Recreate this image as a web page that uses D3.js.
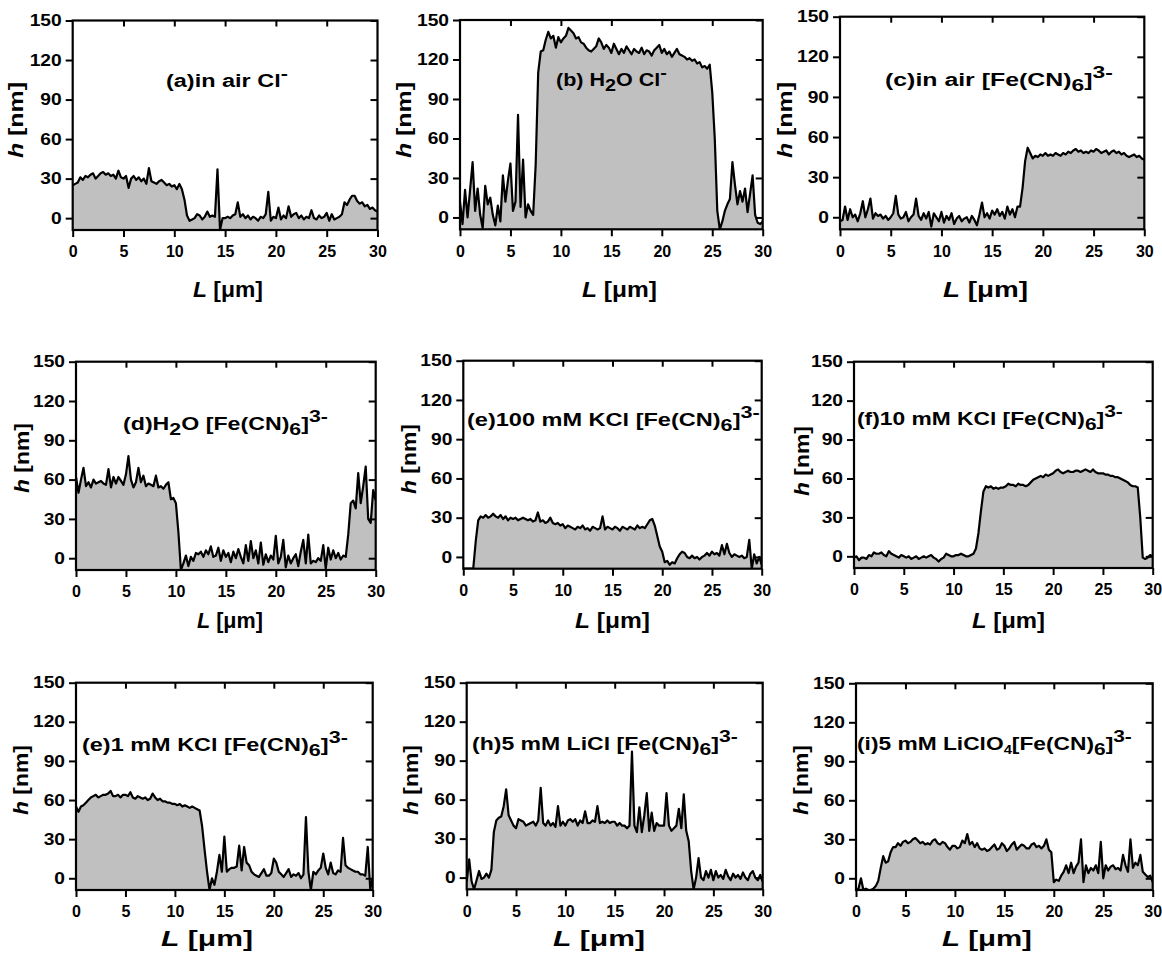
<!DOCTYPE html>
<html>
<head>
<meta charset="utf-8">
<script src="https://cdn.jsdelivr.net/npm/d3@7"></script>
<style>
  body { margin: 0; background: #fff; }
  svg text { font-family: "Liberation Sans", Arial, sans-serif; font-weight: bold; fill: #000; }
</style>
</head>
<body>
<svg id="fig" width="1162" height="956"></svg>
<script>
// Height profiles h [nm] sampled every 0.25 µm along the scan line L = 0 … 30 µm
const scanL = d3.range(0, 30.0001, 0.25);

const xTicks = [0, 5, 10, 15, 20, 25, 30];
const yTicks = [0, 30, 60, 90, 120, 150];
const xTop = [5, 10, 15, 20, 25];
const hDomain = [-9, 150];
const lDomain = [0, 30];

// (a) in air, Cl-
const heightA = [
  25, 26, 27, 31, 29, 32, 31, 33, 34, 30,
  32, 34, 35, 33, 34, 32, 33, 30, 36, 31,
  30, 32, 23, 30, 32, 29, 31, 28, 30, 26,
  38, 28, 27, 26, 28, 29, 27, 25, 26, 24,
  25, 22, 26, 22, 14, 2, -2, -1, 0, 3,
  2, -1, 1, 5, 1, 2, 1, 37, -9, 0,
  0, 1, 0, 2, 3, 12, 1, 3, 0, 2,
  -1, 1, 0, -2, 1, 0, 3, 20, -2, 1,
  0, 8, -1, 2, 0, 9, 1, 3, 4, 0,
  2, -1, 1, 0, 6, 0, -1, 2, 0, 1,
  4, -2, 3, -1, 0, 1, 3, 12, 10, 14,
  17, 17, 13, 11, 12, 9, 10, 7, 8, 6,
  5
];

// (b) H2O, Cl-
const heightB = [
  12, -5, 21, 0, 21, 42, 5, 22, 2, -8,
  24, 10, 15, 2, -6, 9, -3, 32, 12, 28,
  41, 5, 12, 78, 8, 44, 0, 10, 5, 2,
  40, 110, 126, 127, 135, 141, 136, 138, 129, 137,
  133, 136, 138, 144, 142, 140, 136, 137, 133, 132,
  129, 127, 126, 128, 130, 136, 133, 128, 131, 129,
  125, 132, 128, 124, 128, 125, 130, 127, 124, 128,
  126, 125, 129, 124, 127, 126, 123, 127, 129, 131,
  125, 128, 124, 126, 122, 125, 128, 124, 123, 122,
  120, 121, 119, 120, 117, 118, 114, 115, 113, 116,
  95, 60, 5, -9, -3, 5, 10, 14, 42, 25,
  10, 20, 12, 22, 4, 18, 32, 2, -4, -5,
  -3
];

// (c) in air, [Fe(CN)6]3-
const heightC = [
  -3, -2, 8, -2, 6, 0, 2, -3, 3, 12,
  0, 6, 14, -1, 3, 1, 2, -1, 1, -2,
  0, 3, 16, 2, -1, 0, 4, -3, 0, 2,
  14, 1, -2, 3, -1, 4, -7, 3, 0, -3,
  4, -4, 1, -2, 3, -5, -1, 1, -3, -1,
  0, -4, 1, -2, -6, 2, 11, 0, 3, -1,
  5, 2, 6, 1, 4, -1, 8, 2, 6, 0,
  8, 8, 22, 42, 52, 48, 44, 46, 45, 47,
  46, 48, 46, 47, 46, 48, 47, 46, 48, 47,
  49, 48, 50, 51, 49, 50, 48, 49, 48, 50,
  49, 51, 50, 48, 49, 50, 47, 49, 50, 48,
  49, 47, 48, 46, 45, 46, 47, 45, 46, 44,
  43
];

// (d) H2O, [Fe(CN)6]3-
const heightD = [
  62, 50, 60, 69, 55, 58, 54, 60, 57, 58,
  59, 57, 56, 68, 54, 62, 57, 62, 59, 56,
  64, 78, 60, 54, 58, 69, 58, 63, 55, 57,
  56, 55, 63, 54, 55, 53, 56, 58, 45, 46,
  42, 20, -9, -4, 2, -6, 1, -2, 4, 3,
  5, 1, 6, 3, 9, 1, 2, 8, -2, 6,
  1, 4, -3, 5, 0, 7, 1, -4, 10, -2,
  13, 0, 6, -4, 12, -5, 3, -3, 2, -1,
  17, -4, 1, 14, -7, 2, -4, 0, 3, -6,
  5, 14, -4, 18, -4, -2, -3, 0, -2, 10,
  -8, 8, -1, 6, 0, 4, -1, 2, 1, 18,
  42, 44, 38, 65, 42, 55, 70, 30, 27, 52,
  44
];

// (e) 100 mM KCl, [Fe(CN)6]3-
const heightE = [
  -9, -9, -9, -9, -9, 12, 28, 31, 30, 32,
  30, 31, 33, 31, 30, 32, 29, 31, 28, 30,
  29, 30, 28, 29, 30, 29, 28, 29, 27, 28,
  34, 27, 28, 26, 27, 30, 26, 25, 26, 24,
  25, 22, 24, 23, 22, 21, 23, 22, 24, 21,
  22, 20, 23, 22, 21, 22, 31, 21, 23, 22,
  21, 23, 22, 20, 23, 22, 21, 23, 22, 21,
  24, 22, 23, 22, 25, 28, 29, 24, 16, 8,
  4, -4, -3, -6, -4, -5, -1, 2, 4, 3,
  0, -1, 1, -1, 0, -2, 0, 1, 3, 1,
  4, 2, 3, 1, 9, 2, 10, 3, 0, 2,
  1, 0, 1, -1, 0, 13, -9, 2, -5, 0,
  -6
];

// (f) 10 mM KCl, [Fe(CN)6]3-
const heightF = [
  -1, 0, -3, -1, -1, -2, 1, 0, 3, 2,
  2, 3, 1, 0, 4, 2, 1, 0, -1, 1,
  0, -1, 0, -2, -1, 0, -2, -1, 0, -1,
  0, 1, -1, -2, -4, -2, -1, 2, 1, 0,
  0, 1, 1, 2, 1, 0, 0, 1, 2, 6,
  18, 35, 50, 54, 53, 54, 52, 53, 52, 53,
  53, 54, 56, 55, 55, 54, 56, 55, 55, 54,
  55, 57, 59, 60, 61, 62, 61, 63, 62, 63,
  64, 66, 67, 65, 64, 65, 66, 65, 65, 66,
  66, 65, 66, 67, 66, 65, 67, 65, 64, 64,
  64, 63, 63, 62, 62, 61, 61, 60, 59, 58,
  57, 55, 54, 54, 53, 30, -1, -2, -1, 1,
  0
];

// (g) 1 mM KCl, [Fe(CN)6]3-
const heightG = [
  55, 51, 55, 56, 58, 60, 62, 63, 64, 62,
  63, 64, 64, 65, 67, 63, 63, 64, 62, 64,
  64, 63, 66, 62, 61, 63, 62, 61, 62, 60,
  61, 65, 62, 60, 61, 59, 59, 58, 58, 57,
  57, 56, 57, 55, 56, 55, 54, 55, 54, 53,
  52, 40, 22, 5, -9, 0, -5, 5, 18, 5,
  32, 5, 7, 8, 8, 9, 25, 6, 24, 12,
  10, 5, 3, 2, 1, 4, 7, 2, 2, 4,
  15, 12, 5, 3, 1, 4, 7, 1, 3, 2,
  4, 0, 3, 47, 5, -9, 5, 3, 6, 8,
  19, 8, 3, 12, 4, 3, 6, 5, 31, 10,
  8, 7, 6, 5, 5, 3, 3, 2, 24, -8,
  0
];

// (h) 5 mM LiCl, [Fe(CN)6]3-
const heightH = [
  -3, 14, -3, -9, -2, 5, -1, 0, 3, 0,
  6, 35, 44, 46, 47, 55, 68, 48, 44, 40,
  38, 45, 44, 43, 40, 41, 42, 43, 40, 44,
  69, 42, 40, 44, 40, 42, 39, 55, 40, 43,
  40, 44, 45, 43, 45, 40, 44, 42, 51, 42,
  42, 44, 43, 55, 42, 43, 42, 44, 42, 43,
  43, 40, 42, 40, 40, 38, 40, 97, 40, 35,
  54, 35, 48, 65, 36, 50, 36, 42, 40, 40,
  40, 65, 40, 36, 38, 40, 53, 38, 64, 36,
  28, 5, -9, 0, 15, 0, -2, 5, 0, 6,
  -2, 5, 0, 2, -1, 6, 1, -2, 3, 0,
  2, -1, 4, 0, -2, 3, 5, 0, -2, 2,
  -3
];

// (i) 5 mM LiClO4, [Fe(CN)6]3-
const heightI = [
  -9, -8, 0, -9, -8, -9, -9, -8, -6, -2,
  8, 17, 12, 13, 20, 24, 24, 27, 25, 28,
  29, 27, 28, 30, 31, 29, 27, 28, 26, 27,
  26, 29, 30, 27, 26, 28, 27, 24, 22, 25,
  25, 23, 24, 29, 27, 34, 26, 28, 24, 27,
  23, 22, 23, 21, 22, 24, 26, 22, 23, 27,
  25, 21, 23, 26, 28, 22, 24, 26, 25, 23,
  23, 26, 27, 24, 25, 23, 25, 30, 22, 20,
  -3, -1, -2, 2, 5, 10, 4, 12, 4, 9,
  12, 30, -3, 10, 4, 8, 6, 10, 4, 28,
  0, 10, 6, 9, 10, 7, 8, 6, 18, 10,
  5, 30, 8, 12, 10, 18, 5, 3, 1, 2,
  -3
];

// Panel titles: text runs, with "sub"/"sup" marking sub- and superscripts
const titleA = [["(a)in air Cl"], ["-", "sup"]];
const titleB = [["(b) H"], ["2", "sub"], ["O Cl"], ["-", "sup"]];
const titleC = [["(c)in air [Fe(CN)"], ["6", "sub"], ["]"], ["3-", "sup"]];
const titleD = [["(d)H"], ["2", "sub"], ["O [Fe(CN)"], ["6", "sub"], ["]"], ["3-", "sup"]];
const titleE = [["(e)100 mM KCl [Fe(CN)"], ["6", "sub"], ["]"], ["3-", "sup"]];
const titleF = [["(f)10 mM KCl [Fe(CN)"], ["6", "sub"], ["]"], ["3-", "sup"]];
const titleG = [["(e)1 mM KCl [Fe(CN)"], ["6", "sub"], ["]"], ["3-", "sup"]];
const titleH = [["(h)5 mM LiCl [Fe(CN)"], ["6", "sub"], ["]"], ["3-", "sup"]];
const titleI = [["(i)5 mM LiClO"], ["4", "subs"], ["[Fe(CN)"], ["6", "sub"], ["]"], ["3-", "sup"]];

const series = [heightA, heightB, heightC, heightD, heightE, heightF, heightG, heightH, heightI];
const titles = [titleA, titleB, titleC, titleD, titleE, titleF, titleG, titleH, titleI];

// Frame of each panel and where its labels sit
const layout = [
  { L: 72.7, R: 377.5, top: 20.5, bottom: 230,   title: [166, 288, 87],   ylab: [23, 120, 76],  xlab: [193, 263, 297, 22] },
  { L: 460,  R: 762.7, top: 20,   bottom: 229.3, title: [556, 667, 86],   ylab: [411, 120, 76], xlab: [582, 657, 297, 22] },
  { L: 840,  R: 1144.3, top: 16.7, bottom: 229.3, title: [885, 1113, 86], ylab: [792, 120, 76], xlab: [943, 1028, 297, 22] },
  { L: 76,   R: 375.7, top: 361.7, bottom: 570,  title: [123, 328, 430],  ylab: [29, 458, 70],  xlab: [197, 263, 628, 22] },
  { L: 463.3, R: 761.7, top: 360.7, bottom: 568.7, title: [467, 760, 426], ylab: [416, 459, 70], xlab: [575, 650, 628, 22] },
  { L: 854,  R: 1152.7, top: 361.7, bottom: 568, title: [857, 1123, 425], ylab: [809, 461, 70], xlab: [972, 1045, 628, 22] },
  { L: 76,   R: 372.7, top: 682.7, bottom: 890,  title: [82, 348, 751],   ylab: [28, 780, 70],  xlab: [161, 253, 946, 22] },
  { L: 466.7, R: 762.7, top: 682.7, bottom: 889.3, title: [472, 738, 750], ylab: [418, 780, 70], xlab: [553, 645, 946, 22] },
  { L: 856,  R: 1152.7, top: 683.3, bottom: 890, title: [857, 1132, 750], ylab: [808, 780, 70], xlab: [942, 1032, 946, 22] }
];

const svg = d3.select("#fig");
const defs = svg.append("defs");

// Fit a text element horizontally between x0 and x1, baseline at y
function fitText(t, x0, x1, y) {
  const bb = t.node().getBBox();
  const sx = (x1 - x0) / bb.width;
  t.attr("transform", `translate(${x0 - bb.x * sx},${y}) scale(${sx},1)`);
}

function drawTitle(segs, box) {
  const t = svg.append("text").attr("font-size", 18.5);
  let shift = 0;
  segs.forEach(([s, kind]) => {
    const target = kind === "sub" ? 5 : kind === "subs" ? 4 : kind === "sup" ? -8 : 0;
    const ts = t.append("tspan").text(s).attr("dy", target - shift);
    if (kind === "sub") ts.attr("font-size", 17);
    if (kind === "subs") ts.attr("font-size", 12);
    if (kind === "sup") ts.attr("font-size", 17);
    shift = target;
  });
  fitText(t, box[0], box[1], box[2]);
}

function drawYLabel(spec) {
  const [bx, cy, len] = spec;
  const t = svg.append("text").attr("font-size", 20);
  t.append("tspan").attr("font-style", "italic").text("h");
  t.append("tspan").text(" [nm]");
  const bb = t.node().getBBox();
  const s = len / bb.width;
  t.attr("transform", `translate(${bx},${cy}) rotate(-90) scale(${s},1) translate(${-bb.x - bb.width / 2},0)`);
}

function drawXLabel(spec) {
  const [x0, x1, y, fs] = spec;
  const t = svg.append("text").attr("font-size", fs);
  t.append("tspan").attr("font-style", "italic").text("L");
  t.append("tspan").text(" [\u03bcm]");
  fitText(t, x0, x1, y);
}

series.forEach((h, i) => {
  const p = layout[i];
  const x = d3.scaleLinear().domain(lDomain).range([p.L, p.R]);
  const y = d3.scaleLinear().domain(hDomain).range([p.bottom, p.top]);
  const pts = scanL.map((l, k) => [l, h[k]]);

  const clipId = "clip" + i;
  defs.append("clipPath").attr("id", clipId)
    .append("rect").attr("x", p.L).attr("y", p.top)
    .attr("width", p.R - p.L).attr("height", p.bottom - p.top);

  const g = svg.append("g");
  const plot = g.append("g").attr("clip-path", `url(#${clipId})`);

  plot.append("path").datum(pts)
    .attr("fill", "#c0c0c0")
    .attr("d", d3.area().x(d => x(d[0])).y0(y(hDomain[0])).y1(d => y(d[1])));

  plot.append("path").datum(pts)
    .attr("fill", "none").attr("stroke", "#000").attr("stroke-width", 2.2)
    .attr("stroke-linejoin", "round")
    .attr("d", d3.line().x(d => x(d[0])).y(d => y(d[1])));

  // Axes: outward ticks left/bottom, inward ticks top/right
  const ax = (gen, tr) => {
    const a = g.append("g").attr("transform", tr).call(gen);
    a.select(".domain").remove();
    a.selectAll(".tick line").attr("stroke-width", 2);
    return a;
  };
  const bottomAx = ax(d3.axisBottom(x).tickValues(xTicks).tickSize(7).tickSizeOuter(0).tickPadding(9),
    `translate(0,${p.bottom})`);
  bottomAx.attr("font-size", 16);
  const leftAx = ax(d3.axisLeft(y).tickValues(yTicks).tickSize(7).tickSizeOuter(0),
    `translate(${p.L},0)`);
  leftAx.attr("font-size", 16);
  leftAx.selectAll(".tick text").attr("x", null).attr("transform", "translate(-11,0) scale(1.2,1)");
  ax(d3.axisTop(x).tickValues(xTop).tickSize(-6).tickSizeOuter(0).tickFormat(""), `translate(0,${p.top})`);
  ax(d3.axisRight(y).tickValues(yTicks).tickSize(-7).tickSizeOuter(0).tickFormat(""), `translate(${p.R},0)`);

  g.append("rect").attr("x", p.L).attr("y", p.top)
    .attr("width", p.R - p.L).attr("height", p.bottom - p.top)
    .attr("fill", "none").attr("stroke", "#000").attr("stroke-width", 2.2);

  drawTitle(titles[i], p.title);
  drawYLabel(p.ylab);
  drawXLabel(p.xlab);
});
</script>
</body>
</html>
